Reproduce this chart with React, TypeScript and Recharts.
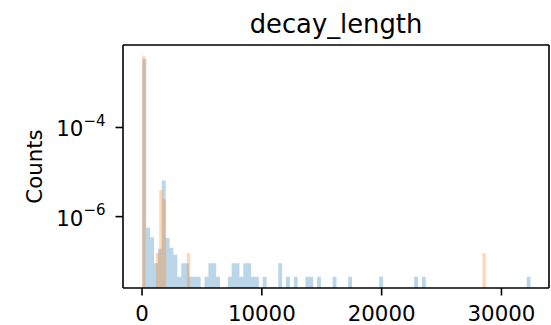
import React from "react";
import { ComposedChart, Area, XAxis, YAxis } from "recharts";

const FONT = "DejaVu Sans";

// histogram bins (left edge of the first bin, width of each bin)
const BLUE_START = 30;
const BLUE_WIDTH = 324;
const ORANGE_START = 0;
const ORANGE_WIDTH = 287;

// density per bin, 100 bins each; 0 = empty bin
const blueDensity = [
  3.44e-3, 5.6e-7, 3.4e-7, 9.0e-8, 1.9e-7, 6.5e-6, 3.3e-7, 2.0e-7, 1.4e-7, 4.5e-8,
  9.0e-8, 9.0e-8, 4.5e-8, 4.5e-8, 4.5e-8, 0, 4.5e-8, 9.0e-8, 9.0e-8, 4.5e-8,
  0, 0, 4.5e-8, 9.0e-8, 9.0e-8, 4.5e-8, 9.0e-8, 9.0e-8, 4.5e-8, 4.5e-8,
  0, 4.5e-8, 0, 0, 0, 9.0e-8, 0, 4.5e-8, 0, 4.5e-8,
  0, 0, 4.5e-8, 4.5e-8, 0, 4.5e-8, 0, 0, 0, 4.5e-8,
  0, 0, 0, 4.5e-8, 0, 0, 0, 0, 0, 0,
  0, 4.5e-8, 0, 0, 0, 0, 0, 0, 0, 0,
  4.5e-8, 0, 4.5e-8, 0, 0, 0, 0, 0, 0, 0,
  0, 0, 0, 0, 0, 0, 0, 0, 0, 0,
  0, 0, 0, 0, 0, 0, 0, 0, 0, 4.5e-8,
];

const orangeDensity = [
  4.08e-3, 0, 0, 0, 1.53e-7, 3.98e-6, 2.46e-6, 0, 0, 0,
  0, 0, 0, 1.53e-7, 0, 0, 0, 0, 0, 0,
  0, 0, 0, 0, 0, 0, 0, 0, 0, 0,
  0, 0, 0, 0, 0, 0, 0, 0, 0, 0,
  0, 0, 0, 0, 0, 0, 0, 0, 0, 0,
  0, 0, 0, 0, 0, 0, 0, 0, 0, 0,
  0, 0, 0, 0, 0, 0, 0, 0, 0, 0,
  0, 0, 0, 0, 0, 0, 0, 0, 0, 0,
  0, 0, 0, 0, 0, 0, 0, 0, 0, 0,
  0, 0, 0, 0, 0, 0, 0, 0, 0, 1.53e-7,
];

const xTicks = [0, 10000, 20000, 30000];
const yTicks = [1e-4, 1e-6];

const X_DOMAIN: [number, number] = [-1590, 33970];
const Y_DOMAIN: [number, number] = [2.5e-8, 7.1e-3];

type Row = { x: number; blue: number | null; orange: number | null };

// one row per bin edge; empty bins sit on the axis floor (log scale has no 0)
function buildRows(): Row[] {
  const rows = new Map<number, Row>();
  const add = (key: "blue" | "orange", start: number, width: number, values: number[]) => {
    for (let i = 0; i <= values.length; i++) {
      const edge = start + i * width;
      const row = rows.get(edge) ?? { x: edge, blue: null, orange: null };
      const v = i < values.length ? values[i] : 0;
      row[key] = v > 0 ? v : Y_DOMAIN[0];
      rows.set(edge, row);
    }
  };
  add("blue", BLUE_START, BLUE_WIDTH, blueDensity);
  add("orange", ORANGE_START, ORANGE_WIDTH, orangeDensity);
  return [...rows.values()].sort((a, b) => a.x - b.x);
}

const data = buildRows();

const TICK_FONT = 21.3;

function XTick({ x, y, payload }: any) {
  return (
    <text x={x} y={y} dy={23.2} textAnchor="middle" fontFamily={FONT} fontSize={TICK_FONT} fill="#000">
      {String(payload.value)}
    </text>
  );
}

function YTick({ x, y, payload }: any) {
  const exp = Math.round(Math.log10(payload.value));
  return (
    <text x={x} y={y} dy={9} textAnchor="end" fontFamily={FONT} fontSize={TICK_FONT} fill="#000">
      10
      <tspan dy={-10.5} fontSize={15}>
        {`\u2212${Math.abs(exp)}`}
      </tspan>
    </text>
  );
}

const spine = { stroke: "#000", strokeWidth: 1.6 };

export default function App() {
  return (
    <div style={{ position: "absolute", left: 0, top: 0, width: 551, height: 325, background: "#fff" }}>
      <ComposedChart width={551} height={325} data={data} margin={{ top: 44, right: 1, bottom: 0, left: 0 }}>
        <XAxis
          dataKey="x"
          type="number"
          domain={X_DOMAIN}
          allowDataOverflow
          ticks={xTicks}
          height={37}
          tickSize={7.5}
          axisLine={spine}
          tickLine={spine}
          tick={<XTick />}
        />
        {/* top and right spines */}
        <XAxis
          xAxisId="top"
          orientation="top"
          type="number"
          domain={X_DOMAIN}
          allowDataOverflow
          height={1}
          tick={false}
          tickLine={false}
          axisLine={spine}
        />
        <YAxis
          type="number"
          scale="log"
          domain={Y_DOMAIN}
          allowDataOverflow
          ticks={yTicks}
          width={123}
          tickSize={7.5}
          tickMargin={10}
          axisLine={spine}
          tickLine={spine}
          tick={<YTick />}
        />
        <YAxis
          yAxisId="right"
          orientation="right"
          type="number"
          domain={[0, 1]}
          width={1}
          tick={false}
          tickLine={false}
          axisLine={spine}
        />
        <Area
          type="stepAfter"
          dataKey="blue"
          stroke="none"
          fill="#1f77b4"
          fillOpacity={0.3}
          baseValue={Y_DOMAIN[0]}
          connectNulls
          dot={false}
          activeDot={false}
          isAnimationActive={false}
        />
        <Area
          type="stepAfter"
          dataKey="orange"
          stroke="none"
          fill="#ff7f0e"
          fillOpacity={0.3}
          baseValue={Y_DOMAIN[0]}
          connectNulls
          dot={false}
          activeDot={false}
          isAnimationActive={false}
        />
        <text x={336} y={32.5} textAnchor="middle" fontFamily={FONT} fontSize={25.8} fill="#000">
          decay_length
        </text>
        <text
          x={41.5}
          y={166.5}
          transform="rotate(-90 41.5 166.5)"
          textAnchor="middle"
          fontFamily={FONT}
          fontSize={TICK_FONT}
          fill="#000"
        >
          Counts
        </text>
      </ComposedChart>
    </div>
  );
}
